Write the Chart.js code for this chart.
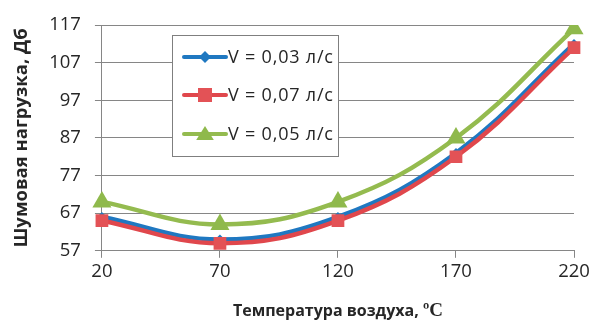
<!DOCTYPE html>
<html>
<head>
<meta charset="utf-8">
<script src="https://cdn.jsdelivr.net/npm/chart.js@4/dist/chart.umd.min.js"></script>
<style>
  html, body { margin: 0; padding: 0; background: #fff; }
  #wrap { width: 595px; height: 326px; position: relative; }
</style>
</head>
<body>
<div id="wrap"><canvas id="c" width="595" height="326"></canvas></div>
<script>
// Air temperature, °C
const temperatures = ['20', '70', '120', '170', '220'];
// Noise load, dB, for three flow rates
const noiseV003 = [66, 60, 66, 83, 112];
const noiseV007 = [65, 59, 65, 82, 111];
const noiseV005 = [70, 64, 70, 87, 116];
const seriesNames = ['V = 0,03 л/с', 'V = 0,07 л/с', 'V = 0,05 л/с'];
const yTicks = [57, 67, 77, 87, 97, 107, 117];

const FONT = '"Open Sans", "Noto Sans", sans-serif';

function drawMarker(ctx, style, r, x, y) {
  if (style === 'rectRot') {
    ctx.moveTo(x, y - r); ctx.lineTo(x + r, y); ctx.lineTo(x, y + r); ctx.lineTo(x - r, y); ctx.closePath();
  } else if (style === 'rect') {
    ctx.rect(x - r, y - r, 2 * r, 2 * r);
  } else if (style === 'triangle') {
    ctx.moveTo(x, y - r); ctx.lineTo(x + r * 1.1, y + r * 0.75); ctx.lineTo(x - r * 1.1, y + r * 0.75); ctx.closePath();
  }
}

// Boxed legend drawn inside the plot area, upper left
const boxLegend = {
  id: 'boxLegend',
  afterDatasetsDraw(chart) {
    const ctx = chart.ctx;
    const x0 = 172, y0 = 35, w = 166, h = 121;
    ctx.save();
    ctx.fillStyle = '#fff';
    ctx.fillRect(x0, y0, w, h);
    ctx.strokeStyle = '#7f7f7f';
    ctx.lineWidth = 1;
    ctx.strokeRect(x0 + 0.5, y0 + 0.5, w, h);
    const rows = [57, 95, 134];
    chart.data.datasets.forEach((ds, i) => {
      const y = rows[i];
      ctx.strokeStyle = ds.borderColor;
      ctx.lineWidth = 4;
      ctx.lineCap = 'round';
      ctx.beginPath();
      ctx.moveTo(184, y);
      ctx.lineTo(226, y);
      ctx.stroke();
      ctx.fillStyle = ds.pointBackgroundColor;
      ctx.beginPath();
      drawMarker(ctx, ds.pointStyle, ds.legendRadius, 205, y);
      ctx.fill();
      ctx.fillStyle = '#262626';
      ctx.font = '18px ' + FONT;
      ctx.letterSpacing = '0.8px';
      ctx.textBaseline = 'middle';
      ctx.textAlign = 'left';
      ctx.fillText(ds.label, 228, y + 1);
      ctx.letterSpacing = '0px';
    });
    ctx.restore();
  }
};

// X axis title with serif degree sign
const xTitle = {
  id: 'xTitle',
  afterDraw(chart) {
    const ctx = chart.ctx;
    const a = chart.chartArea;
    const part1 = 'Температура воздуха, ';
    const part2 = 'ºC';
    ctx.save();
    ctx.textBaseline = 'alphabetic';
    ctx.fillStyle = '#262626';
    const f1 = 'bold 16px ' + FONT;
    const f2 = 'bold 19px "Liberation Serif", "DejaVu Serif", serif';
    ctx.font = f1; const w1 = ctx.measureText(part1).width;
    ctx.font = f2; const w2 = ctx.measureText(part2).width;
    const cx = (a.left + a.right) / 2;
    const x = cx - (w1 + w2) / 2;
    const y = 316;
    ctx.font = f1; ctx.textAlign = 'left'; ctx.fillText(part1, x, y);
    ctx.font = f2; ctx.fillText(part2, x + w1, y);
    ctx.restore();
  }
};

new Chart(document.getElementById('c'), {
  type: 'line',
  data: {
    labels: temperatures,
    datasets: [
      {
        label: seriesNames[0], data: noiseV003,
        borderColor: '#1f78c1', backgroundColor: '#1f78c1',
        pointStyle: 'rectRot', pointRadius: 5, legendRadius: 6,
        pointBackgroundColor: '#1f78c1', pointBorderWidth: 0,
        borderWidth: 4.5, tension: 0.4, order: 3
      },
      {
        label: seriesNames[1], data: noiseV007,
        borderColor: '#e0474c', backgroundColor: '#e0474c',
        pointStyle: 'rect', pointRadius: 9, legendRadius: 7,
        pointBackgroundColor: '#e35256', pointBorderWidth: 0,
        borderWidth: 4.5, tension: 0.4, order: 2
      },
      {
        label: seriesNames[2], data: noiseV005,
        borderColor: '#94bb4f', backgroundColor: '#94bb4f',
        pointStyle: 'triangle', pointRadius: 11, legendRadius: 8,
        pointBackgroundColor: '#8fb94c', pointBorderWidth: 0,
        borderWidth: 4.5, tension: 0.4, order: 1
      }
    ]
  },
  options: {
    responsive: false,
    animation: false,
    layout: { padding: { top: 13, right: 21, bottom: 40, left: 11 } },
    plugins: {
      legend: { display: false },
      tooltip: { enabled: false }
    },
    scales: {
      x: {
        offset: false,
        grid: {
          drawOnChartArea: false, drawTicks: true, tickLength: 7,
          color: '#868686', lineWidth: 1
        },
        border: { color: '#868686', width: 1 },
        ticks: { color: '#262626', font: { family: FONT, size: 18.5 }, padding: 3, maxRotation: 0 }
      },
      y: {
        min: yTicks[0], max: yTicks[yTicks.length - 1],
        afterBuildTicks(scale) { scale.ticks = yTicks.map(v => ({ value: v })); },
        grid: { color: '#868686', lineWidth: 1, tickLength: 7 },
        border: { color: '#868686', width: 1 },
        ticks: { color: '#262626', font: { family: FONT, size: 18.5 }, padding: 14 },
        title: {
          display: true, text: 'Шумовая нагрузка, Дб', color: '#262626',
          font: { family: FONT, size: 18.5, weight: 'bold' }, padding: { top: 0, bottom: 2 }
        }
      }
    }
  },
  plugins: [boxLegend, xTitle]
});
</script>
</body>
</html>
